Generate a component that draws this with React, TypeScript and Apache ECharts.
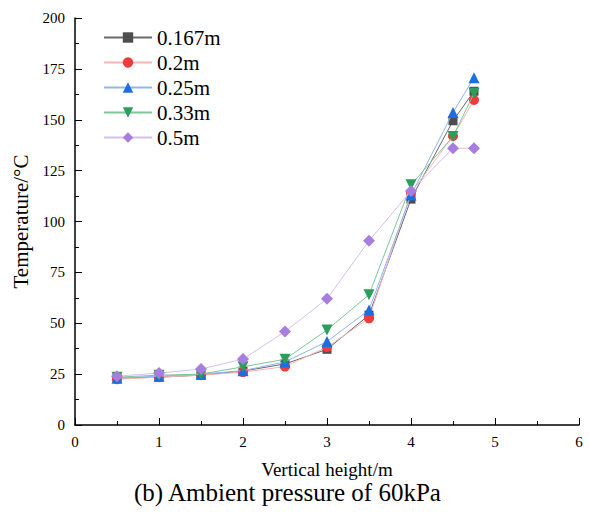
import React, { useEffect, useRef } from "react";
import * as echarts from "echarts";

const heights = [0.5, 1, 1.5, 2, 2.5, 3, 3.5, 4, 4.5, 4.75];
const s0167 = [23, 23.5, 24.5, 26.5, 30, 37.2, 54, 111, 149.5, 164];
const s02 = [22.5, 23.5, 24.5, 26, 28.7, 38.3, 52.4, 114, 142, 159.7];
const s025 = [23, 24, 25, 26.7, 31, 41, 56.5, 113, 153.6, 170.7];
const s033 = [23.5, 24.5, 25, 28.6, 32.3, 46.7, 64, 118, 141.8, 163];
const s05 = [24, 25.5, 27.5, 32.4, 45.9, 62, 90.5, 115, 136, 136];
const names = ["0.167m", "0.2m", "0.25m", "0.33m", "0.5m"];
const yTicks = [0, 25, 50, 75, 100, 125, 150, 175, 200];

const FONT = "'Liberation Serif', 'Times New Roman', serif";

export default function App() {
  const ref = useRef<HTMLDivElement>(null);
  useEffect(() => {
    if (!ref.current) return;
    const chart = echarts.init(ref.current, undefined, { renderer: "svg" });
    const all = [s0167, s02, s025, s033, s05];
    const markerColors = ["#4d4d4d", "#ee3b3b", "#1c6ee0", "#2a9e5a", "#a87de0"];
    const lineColors = ["#6a6a6a", "#f6b4b4", "#8fb5ee", "#7cc79b", "#d4bff0"];
    const symbols = ["rect", "circle", "triangle", "path://M0,0 L10,0 L5,9 Z", "diamond"];
    const sizes = [9, 10, 11, 11, 12];
    const series = all.map((vals, i) => ({
      name: names[i],
      type: "line",
      data: heights.map((h, j) => [h, vals[j]]),
      symbol: symbols[i],
      symbolSize: sizes[i],
      showSymbol: true,
      itemStyle: { color: markerColors[i] },
      lineStyle: { color: lineColors[i], width: 1 },
      z: 2 + i,
    }));
    chart.setOption({
      animation: false,
      backgroundColor: "#ffffff",
      grid: { left: 75, right: 10, top: 18, bottom: 92, containLabel: false },
      title: {
        text: "(b) Ambient pressure of 60kPa",
        left: 134,
        top: 480,
        padding: 0,
        textStyle: { fontFamily: FONT, fontSize: 25, fontWeight: "normal", color: "#000" },
      },
      legend: {
        orient: "vertical",
        left: 98,
        top: 22,
        itemWidth: 48,
        itemHeight: 13,
        itemGap: 4,
        textStyle: { fontFamily: FONT, fontSize: 21, color: "#000", padding: [0, 0, 0, 0] },
        data: names,
      },
      xAxis: {
        type: "value",
        min: 0,
        max: 6,
        interval: 1,
        name: "Vertical height/m",
        nameLocation: "middle",
        nameGap: 35,
        nameTextStyle: { fontFamily: FONT, fontSize: 19, color: "#000" },
        axisLine: { show: true, lineStyle: { color: "#000", width: 1.5 } },
        axisTick: { show: true, inside: true, length: 7, lineStyle: { color: "#000", width: 1 } },
        minorTick: { show: true, splitNumber: 2, length: 4, lineStyle: { color: "#000" } },
        axisLabel: { fontFamily: FONT, fontSize: 15, color: "#000", margin: 9 },
        splitLine: { show: false },
      },
      yAxis: {
        type: "value",
        min: 0,
        max: 200,
        interval: 25,
        name: "Temperature/°C",
        nameLocation: "middle",
        nameGap: 41,
        nameTextStyle: { fontFamily: FONT, fontSize: 21, color: "#000" },
        axisLine: { show: true, lineStyle: { color: "#000", width: 1.5 } },
        axisTick: { show: true, inside: true, length: 7, lineStyle: { color: "#000", width: 1 } },
        minorTick: { show: true, splitNumber: 2, length: 4, lineStyle: { color: "#000" } },
        axisLabel: {
          fontFamily: FONT,
          fontSize: 15,
          color: "#000",
          margin: 10,
          formatter: (v: number) => (yTicks.includes(v) ? String(v) : ""),
        },
        splitLine: { show: false },
      },
      series,
    });
    return () => chart.dispose();
  }, []);
  return <div ref={ref} style={{ width: 589, height: 517, position: "absolute", left: 0, top: 0 }} />;
}
